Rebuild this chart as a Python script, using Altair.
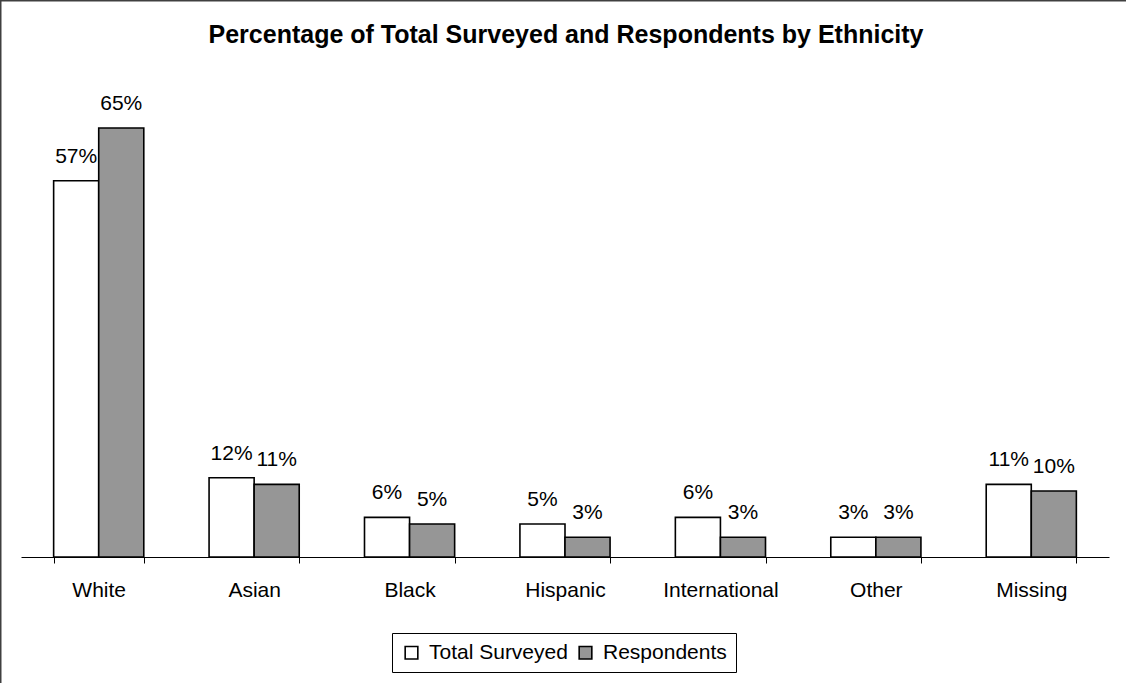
import altair as alt
import pandas as pd

# Survey shares by ethnicity (percent)
CATEGORIES = ["White", "Asian", "Black", "Hispanic", "International", "Other", "Missing"]
TOTAL_SURVEYED = [57, 12, 6, 5, 6, 3, 11]
RESPONDENTS = [65, 11, 5, 3, 3, 3, 10]
SERIES = ["Total Surveyed", "Respondents"]
SERIES_COLORS = ["#ffffff", "#969696"]
TITLE = "Percentage of Total Surveyed and Respondents by Ethnicity"

FONT = "Liberation Sans"

# layout of the canvas (plot area inside fixed padding)
PAD_L, PAD_T, PAD_R, PAD_B = 21, 95, 17, 126
W, H = 1088, 462
TOTAL_W, TOTAL_H = PAD_L + W + PAD_R, PAD_T + H + PAD_B

rows = []
for cat, t, r in zip(CATEGORIES, TOTAL_SURVEYED, RESPONDENTS):
    rows.append({"group": cat, "series": SERIES[0], "value": t, "label": f"{t}%"})
    rows.append({"group": cat, "series": SERIES[1], "value": r, "label": f"{r}%"})
df = pd.DataFrame(rows)

x_enc = alt.X(
    "group:N",
    sort=CATEGORIES,
    title=None,
    scale=alt.Scale(paddingInner=0.42, paddingOuter=0.21),
    axis=alt.Axis(
        labelAngle=0,
        labelFont=FONT,
        labelFontSize=21,
        labelColor="black",
        labelPadding=16,
        domainColor="black",
        domainWidth=1,
        tickColor="black",
        tickSize=6,
        tickBand="extent",
        grid=False,
    ),
)
xoff = alt.XOffset("series:N", sort=SERIES)
y_enc = alt.Y("value:Q", scale=alt.Scale(domain=[0, 70], nice=False), axis=None)

bars = alt.Chart(df).mark_bar(stroke="black", strokeWidth=1.6).encode(
    x=x_enc,
    xOffset=xoff,
    y=y_enc,
    color=alt.Color(
        "series:N",
        sort=SERIES,
        scale=alt.Scale(domain=SERIES, range=SERIES_COLORS),
        legend=alt.Legend(
            title=None,
            orient="none",
            direction="horizontal",
            legendX=392 - PAD_L,
            legendY=633 - PAD_T,
            strokeColor="black",
            fillColor="white",
            padding=9,
            labelFont=FONT,
            labelFontSize=21,
            labelColor="black",
            labelOffset=7,
            columnPadding=7,
            symbolType="square",
            symbolSize=160,
            symbolStrokeColor="black",
            symbolStrokeWidth=1.6,
        ),
    ),
)

labels = alt.Chart(df).mark_text(
    font=FONT, fontSize=21, color="black", baseline="alphabetic", dy=-18
).encode(x=x_enc, xOffset=xoff, y=y_enc, text="label:N")

title = alt.Chart(pd.DataFrame({"t": [TITLE]})).mark_text(
    font=FONT, fontSize=25, fontWeight="bold", color="black", baseline="alphabetic", align="center"
).encode(text="t:N", x=alt.value(566 - PAD_L), y=alt.value(43 - PAD_T))

# frame lines along the left and top edges
frame_left = alt.Chart(pd.DataFrame({"k": [0]})).mark_rule(color="#404040", strokeWidth=1.5).encode(
    x=alt.value(-PAD_L + 0.75), y=alt.value(-PAD_T), y2=alt.value(TOTAL_H - PAD_T)
)
frame_top = alt.Chart(pd.DataFrame({"k": [0]})).mark_rule(color="#404040", strokeWidth=1.5).encode(
    y=alt.value(-PAD_T + 0.75), x=alt.value(-PAD_L), x2=alt.value(TOTAL_W - PAD_L)
)

chart = (
    alt.layer(bars, labels, title, frame_left, frame_top)
    .properties(
        width=W,
        height=H,
        padding={"left": PAD_L, "top": PAD_T, "right": PAD_R, "bottom": PAD_B},
        autosize=alt.AutoSizeParams(type="none"),
        background="white",
    )
    .configure_view(stroke=None)
)

chart.save("out.html", embed_options={"renderer": "svg", "actions": False})
